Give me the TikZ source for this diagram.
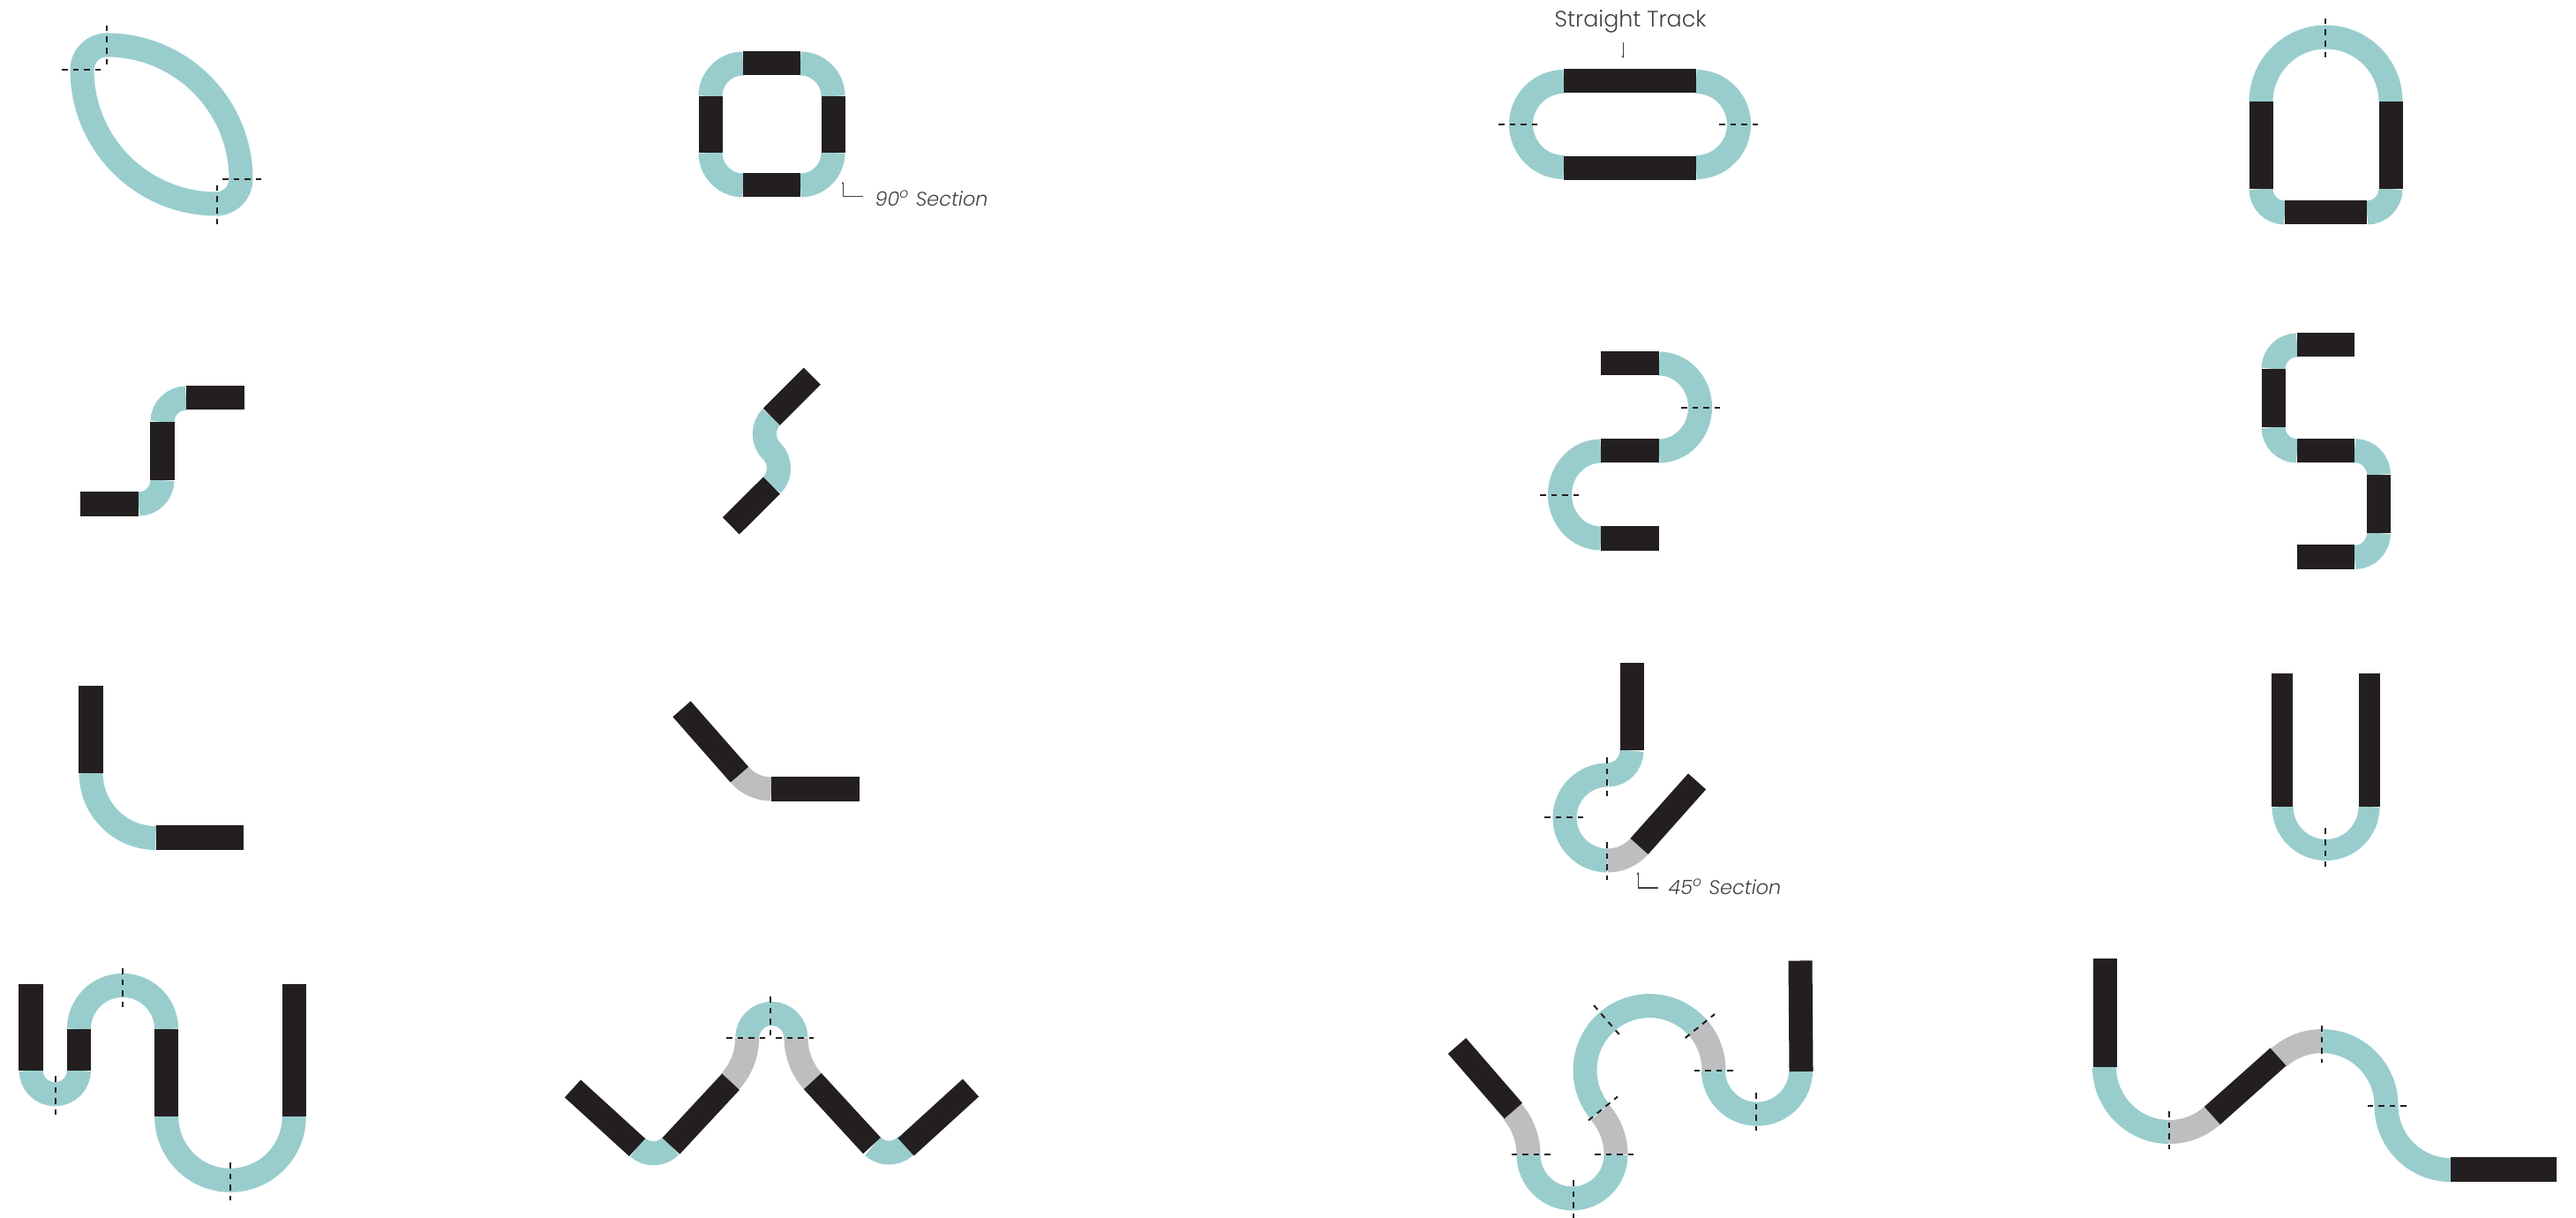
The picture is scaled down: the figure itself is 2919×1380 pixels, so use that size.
\documentclass[tikz,border=0pt]{standalone}
\usepackage{fontspec}
\usetikzlibrary{arrows.meta}
\setmainfont{Poppins}[UprightFont=* Light,ItalicFont=* Light Italic]
\definecolor{trackTeal}{RGB}{153,205,205}
\definecolor{trackBlack}{RGB}{35,31,32}
\definecolor{trackGrey}{RGB}{188,190,192}
\definecolor{labelGray}{RGB}{65,64,66}
\newcommand{\trackarc}[5][bendteal]{\draw[#1] ([shift={(#3:#5)}]#2) arc[start angle=#3,end angle=#4,radius=#5];}
\newcommand{\cutline}[2]{\draw[cutmark] (#1) -- (#2);}

\begin{document}
\begin{tikzpicture}[x=0.01cm,y=-0.01cm,
    track/.style={line width=2.7mm},
    narrow/.style={line width=2.4mm},
    bendteal/.style={track,draw=trackTeal},
    bendgrey/.style={track,draw=trackGrey},
    straight/.style={track,draw=trackBlack},
    cutmark/.style={draw=trackBlack,line width=0.2mm,dash pattern=on 0.65mm off 0.6mm},
    leader/.style={draw=labelGray,line width=0.1mm,{Latex[length=0.25mm,width=0.3mm]}-},
    tag/.style={inner sep=0pt,anchor=west,text=labelGray,font=\fontsize{7.2pt}{8pt}\selectfont},
    tagit/.style={tag,font=\fontsize{6.35pt}{8pt}\selectfont\itshape}
  ]
  \useasboundingbox (0,0) rectangle (2919,1380);

  \draw[bendteal] (121,51) arc[start angle=270,end angle=360,radius=152] arc[start angle=0,end angle=90,radius=28]
    arc[start angle=90,end angle=180,radius=152] arc[start angle=180,end angle=270,radius=28] -- cycle;
  \cutline{121,29}{121,74} \cutline{70,79}{114,79} \cutline{246,210}{246,254} \cutline{252,203}{296,203}

  \trackarc{842,109}{270}{180}{37} \trackarc{907,109}{270}{360}{37}
  \trackarc{842,173}{180}{90}{37} \trackarc{907,173}{0}{90}{37}
  \draw[straight] (842,72) -- (907,72);
  \draw[straight] (842,210) -- (907,210);
  \draw[straight] (805,109) -- (805,173);
  \draw[straight] (944,109) -- (944,173);
  \node[tagit] (label90) at (991,225) {90\textsuperscript{o} Section};
  \coordinate (tip90) at (955,206);
  \coordinate (foot90) at (978,223);
  \draw[leader] (tip90) |- (foot90);

  \trackarc{1772,141}{270}{90}{48.5} \trackarc{1922,141}{-90}{90}{48.5}
  \draw[straight] (1772,92) -- (1922,92);
  \draw[straight] (1772,190.5) -- (1922,190.5);
  \cutline{1698,141.5}{1742,141.5} \cutline{1948,141.5}{1992,141.5}
  \node[tag] (labelstraight) at (1761,24) {Straight Track};
  \coordinate (tipstraight) at (1839,66);
  \coordinate (footstraight) at (1839,48);
  \draw[leader] (tipstraight) -- (footstraight);

  \trackarc{2635.5,115.5}{180}{360}{73.5} \trackarc{2589,214}{180}{90}{27} \trackarc{2682,214}{0}{90}{27}
  \draw[straight] (2562,115.5) -- (2562,214);
  \draw[straight] (2709,115.5) -- (2709,214);
  \draw[straight] (2589,240.5) -- (2682,240.5);
  \cutline{2635,21}{2635,65}

  \trackarc{157,544}{90}{0}{27} \trackarc{211,478}{180}{270}{27}
  \draw[straight] (91,571) -- (157,571);
  \draw[straight] (184,478) -- (184,544);
  \draw[straight] (211,451) -- (277,451);

  \trackarc{893.9,491.6}{225}{135}{27.6} \trackarc{854.9,530.5}{-45}{45}{27.6}
  \draw[straight] (920.3,426.2) -- (874.4,472.2);
  \draw[straight] (874.4,550) -- (828.3,595.8);

  \draw[bendteal] (1880,412) arc[start angle=-90,end angle=90,x radius=46.5,y radius=49.5];
  \draw[bendteal] (1814,511) arc[start angle=270,end angle=90,x radius=46.5,y radius=49.5];
  \draw[straight] (1814,412) -- (1880,412);
  \draw[straight] (1814,511) -- (1880,511);
  \draw[straight] (1814,610) -- (1880,610);
  \cutline{1905,462}{1949,462} \cutline{1745,561}{1789,561}

  \trackarc{2603,418}{270}{180}{27} \trackarc{2603,484}{180}{90}{27}
  \trackarc{2668,538}{270}{360}{27.5} \trackarc{2668,604}{0}{90}{27.5}
  \draw[straight] (2603,391) -- (2668,391);
  \draw[straight] (2576,418) -- (2576,484);
  \draw[straight] (2603,511) -- (2668,511);
  \draw[straight] (2695.5,538) -- (2695.5,604);
  \draw[straight] (2603,631) -- (2668,631);

  \trackarc{176.6,876}{180}{90}{73.5}
  \draw[straight] (103,777) -- (103,876);
  \draw[straight] (176.6,949) -- (276,949);

  \trackarc[bendgrey]{874,846}{138.6}{90}{48}
  \draw[straight] (772.5,803.3) -- (838,877.7);
  \draw[straight] (874,894) -- (973.5,894);

  \trackarc{1821.5,850.5}{0}{90}{27.5} \trackarc{1821.5,926.5}{270}{90}{48.5}
  \trackarc[bendgrey]{1821.5,926.5}{90}{41.4}{48.5}
  \draw[straight] (1849,751) -- (1849,850.5);
  \draw[straight] (1923,885.4) -- (1857.5,958.9);
  \cutline{1821,858}{1821,902} \cutline{1821,954}{1821,997} \cutline{1750,926.5}{1794,926.5}
  \node[tagit] (label45) at (1890,1005) {45\textsuperscript{o} Section};
  \coordinate (tip45) at (1856,988);
  \coordinate (foot45) at (1879,1006);
  \draw[leader] (tip45) |- (foot45);

  \trackarc[bendteal,narrow]{2635.5,914}{180}{0}{49}
  \draw[straight,narrow] (2586,763) -- (2586,914);
  \draw[straight,narrow] (2685,763) -- (2685,914);
  \cutline{2635,938.5}{2635,982}

  \trackarc{62.3,1212.6}{180}{0}{27.2} \trackarc{139,1166}{180}{360}{49.6} \trackarc{261,1265}{180}{0}{72.3}
  \draw[straight] (35,1115) -- (35,1212.6);
  \draw[straight] (89.5,1166) -- (89.5,1212.6);
  \draw[straight] (188.6,1166) -- (188.6,1265);
  \draw[straight] (333.3,1115) -- (333.3,1265);
  \cutline{63,1219}{63,1263} \cutline{138.5,1097}{138.5,1141} \cutline{261,1317}{261,1360}

  \trackarc{740.5,1279.7}{132.4}{43}{27} \trackarc{874.3,1176}{180}{360}{27.6} \trackarc{1007.3,1279}{133}{42}{27}
  \trackarc[bendgrey]{773.6,1176}{0}{43}{73} \trackarc[bendgrey]{975,1176}{180}{137}{73}
  \draw[straight] (649,1233.4) -- (722,1300);
  \draw[straight] (760.4,1298.4) -- (828,1225.7);
  \draw[straight] (920.8,1225) -- (988,1298);
  \draw[straight] (1026.5,1299.5) -- (1100,1232.5);
  \cutline{873,1129}{873,1173} \cutline{823,1176}{868,1176} \cutline{879,1176}{922,1176}

  \trackarc[bendgrey]{1657,1308.4}{0}{-41}{75} \trackarc{1781.5,1308.4}{180}{0}{49.5}
  \trackarc[bendgrey]{1758,1308.4}{0}{-41}{73} \trackarc{1869,1212.6}{140}{319}{73}
  \trackarc[bendgrey]{1869,1212.6}{319}{360}{73} \trackarc{1991,1212.6}{180}{0}{49.6}
  \draw[straight] (1651,1185) -- (1714.8,1258.6);
  \draw[straight] (2040,1088.5) -- (2041,1214);
  \cutline{1712.7,1308.4}{1756.7,1308.4} \cutline{1807,1308.4}{1851,1308.4}
  \cutline{1800,1269.4}{1833,1242.5} \cutline{1806,1139}{1834.7,1172}
  \cutline{1909.6,1176}{1943,1149} \cutline{1919.6,1212.6}{1964,1212.6}
  \cutline{1989.5,1238}{1989.5,1281} \cutline{1782.5,1337}{1782.5,1380}

  \trackarc{2458,1209}{180}{90}{73.5} \trackarc[bendgrey]{2458,1209}{90}{48.4}{73.5}
  \trackarc[bendgrey]{2631,1252.6}{228.4}{270}{73} \trackarc{2631,1252.6}{270}{360}{73}
  \trackarc{2777,1252.6}{180}{90}{73}
  \draw[straight] (2385,1085.5) -- (2385,1209);
  \draw[straight] (2506.8,1264) -- (2581.6,1197.4);
  \draw[straight] (2777,1325) -- (2897,1325);
  \cutline{2458,1259.4}{2458,1302} \cutline{2631,1162}{2631,1204} \cutline{2682.6,1252.6}{2727,1252.6}
\end{tikzpicture}
\end{document}
